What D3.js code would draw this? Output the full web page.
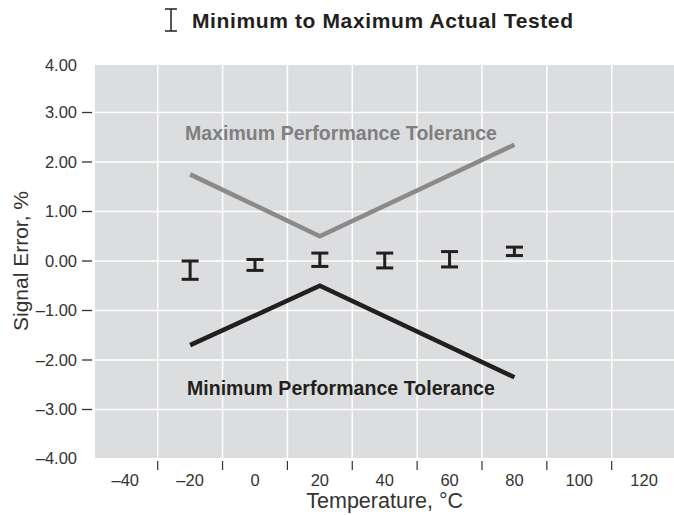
<!DOCTYPE html>
<html>
<head>
<meta charset="utf-8">
<script src="https://cdn.jsdelivr.net/npm/d3@7"></script>
<style>
  body { margin: 0; background: #fff; }
  text { font-family: "Liberation Sans", Arial, Helvetica, sans-serif; }
</style>
</head>
<body>
<svg id="chart"></svg>
<script>
// tested range at each temperature
const temps = [-20, 0, 20, 40, 60, 80];
const testedMin = [-0.37, -0.19, -0.11, -0.14, -0.12, 0.11];
const testedMax = [0.0, 0.03, 0.16, 0.16, 0.19, 0.28];

// tolerance envelope
const tolTemps = [-20, 20, 80];
const maxTol = [1.75, 0.5, 2.35];
const minTol = [-1.7, -0.5, -2.35];

const xTicks = [-40, -20, 0, 20, 40, 60, 80, 100, 120];
const xGrid = [-30, -10, 10, 30, 50, 70, 90, 110];
const yTicks = [4, 3, 2, 1, 0, -1, -2, -3, -4];
const yGrid = [3, 2, 1, 0, -1, -2, -3];

const width = 674, height = 515;
const plot = { left: 95, right: 674, top: 65, bottom: 458 };
const dark = "#231f20", grey = "#8a8a8a";

const svg = d3.select("#chart")
  .attr("width", width)
  .attr("height", height);

const x = d3.scaleLinear().domain([-30, 110]).range([157.7, 611.7]);
const y = d3.scaleLinear().domain([-4, 4]).range([459, 63]);

const fmt = v => (v < 0 ? "\u2013" : "") + Math.abs(v).toFixed(2);
const fmtX = v => (v < 0 ? "\u2013" : "") + Math.abs(v);

// plot background
svg.append("rect")
  .attr("x", plot.left).attr("y", plot.top)
  .attr("width", plot.right - plot.left)
  .attr("height", plot.bottom - plot.top)
  .attr("fill", "#dcdddf");

// white grid
svg.append("g").selectAll("line")
  .data(yGrid).enter().append("line")
  .attr("x1", plot.left).attr("x2", plot.right)
  .attr("y1", d => y(d)).attr("y2", d => y(d))
  .attr("stroke", "#fff").attr("stroke-width", 1.5);

svg.append("g").selectAll("line")
  .data(xGrid).enter().append("line")
  .attr("x1", d => x(d)).attr("x2", d => x(d))
  .attr("y1", plot.top).attr("y2", plot.bottom)
  .attr("stroke", "#fff").attr("stroke-width", 1.5);

// y axis ticks + labels
svg.append("g").selectAll("line")
  .data(yGrid).enter().append("line")
  .attr("x1", 82).attr("x2", 92)
  .attr("y1", d => y(d)).attr("y2", d => y(d))
  .attr("stroke", "#333").attr("stroke-width", 1.3);

svg.append("g").selectAll("text")
  .data(yTicks).enter().append("text")
  .attr("x", 77)
  .attr("y", d => d === 4 ? plot.top : d === -4 ? plot.bottom : y(d))
  .attr("dy", "0.35em")
  .attr("text-anchor", "end")
  .attr("fill", "#333")
  .style("font-size", "16.5px")
  .text(fmt);

// x axis ticks + labels
svg.append("g").selectAll("line")
  .data(xGrid).enter().append("line")
  .attr("x1", d => x(d)).attr("x2", d => x(d))
  .attr("y1", 461).attr("y2", 470)
  .attr("stroke", "#333").attr("stroke-width", 1.2);

svg.append("g").selectAll("text")
  .data(xTicks).enter().append("text")
  .attr("x", d => x(d))
  .attr("y", 486)
  .attr("text-anchor", "middle")
  .attr("fill", "#333")
  .style("font-size", "16.5px")
  .text(fmtX);

// axis titles
svg.append("text")
  .attr("x", x(40)).attr("y", 508)
  .attr("text-anchor", "middle")
  .attr("fill", "#333")
  .style("font-size", "21.5px")
  .text("Temperature, \u00b0C");

svg.append("text")
  .attr("transform", `translate(28, ${y(0)}) rotate(-90)`)
  .attr("text-anchor", "middle")
  .attr("fill", "#333")
  .style("font-size", "21px")
  .text("Signal Error, %");

// tolerance lines
const line = d3.line()
  .x(d => x(d[0]))
  .y(d => y(d[1]));

svg.append("path")
  .attr("d", line(tolTemps.map((t, i) => [t, maxTol[i]])))
  .attr("fill", "none").attr("stroke", grey).attr("stroke-width", 4.5);

svg.append("path")
  .attr("d", line(tolTemps.map((t, i) => [t, minTol[i]])))
  .attr("fill", "none").attr("stroke", dark).attr("stroke-width", 4.5);

svg.append("text")
  .attr("x", x(-21.6)).attr("y", y(2.44))
  .attr("fill", "#7f7f7f")
  .attr("textLength", 312).attr("lengthAdjust", "spacing")
  .style("font-size", "19.5px").style("font-weight", "bold")
  .text("Maximum Performance Tolerance");

svg.append("text")
  .attr("x", x(-21)).attr("y", y(-2.71))
  .attr("fill", dark)
  .attr("textLength", 308).attr("lengthAdjust", "spacing")
  .style("font-size", "19.5px").style("font-weight", "bold")
  .text("Minimum Performance Tolerance");

// min-max tested bars
const bars = svg.append("g")
  .selectAll("g")
  .data(temps.map((t, i) => ({ t: t, lo: testedMin[i], hi: testedMax[i] })))
  .enter().append("g")
  .attr("stroke", dark).attr("stroke-width", 3);

bars.append("line")
  .attr("x1", d => x(d.t)).attr("x2", d => x(d.t))
  .attr("y1", d => y(d.hi)).attr("y2", d => y(d.lo));
bars.append("line")
  .attr("x1", d => x(d.t) - 8.5).attr("x2", d => x(d.t) + 8.5)
  .attr("y1", d => y(d.hi)).attr("y2", d => y(d.hi));
bars.append("line")
  .attr("x1", d => x(d.t) - 8.5).attr("x2", d => x(d.t) + 8.5)
  .attr("y1", d => y(d.lo)).attr("y2", d => y(d.lo));

// legend
const legend = svg.append("g")
  .attr("stroke", dark).attr("stroke-width", 1.5);
legend.append("line").attr("x1", 171).attr("x2", 171).attr("y1", 9).attr("y2", 31);
legend.append("line").attr("x1", 165).attr("x2", 177).attr("y1", 9).attr("y2", 9);
legend.append("line").attr("x1", 165).attr("x2", 177).attr("y1", 31).attr("y2", 31);

svg.append("text")
  .attr("x", 192).attr("y", 28)
  .attr("fill", dark)
  .attr("textLength", 381).attr("lengthAdjust", "spacing")
  .style("font-size", "21px").style("font-weight", "bold")
  .text("Minimum to Maximum Actual Tested");
</script>
</body>
</html>
